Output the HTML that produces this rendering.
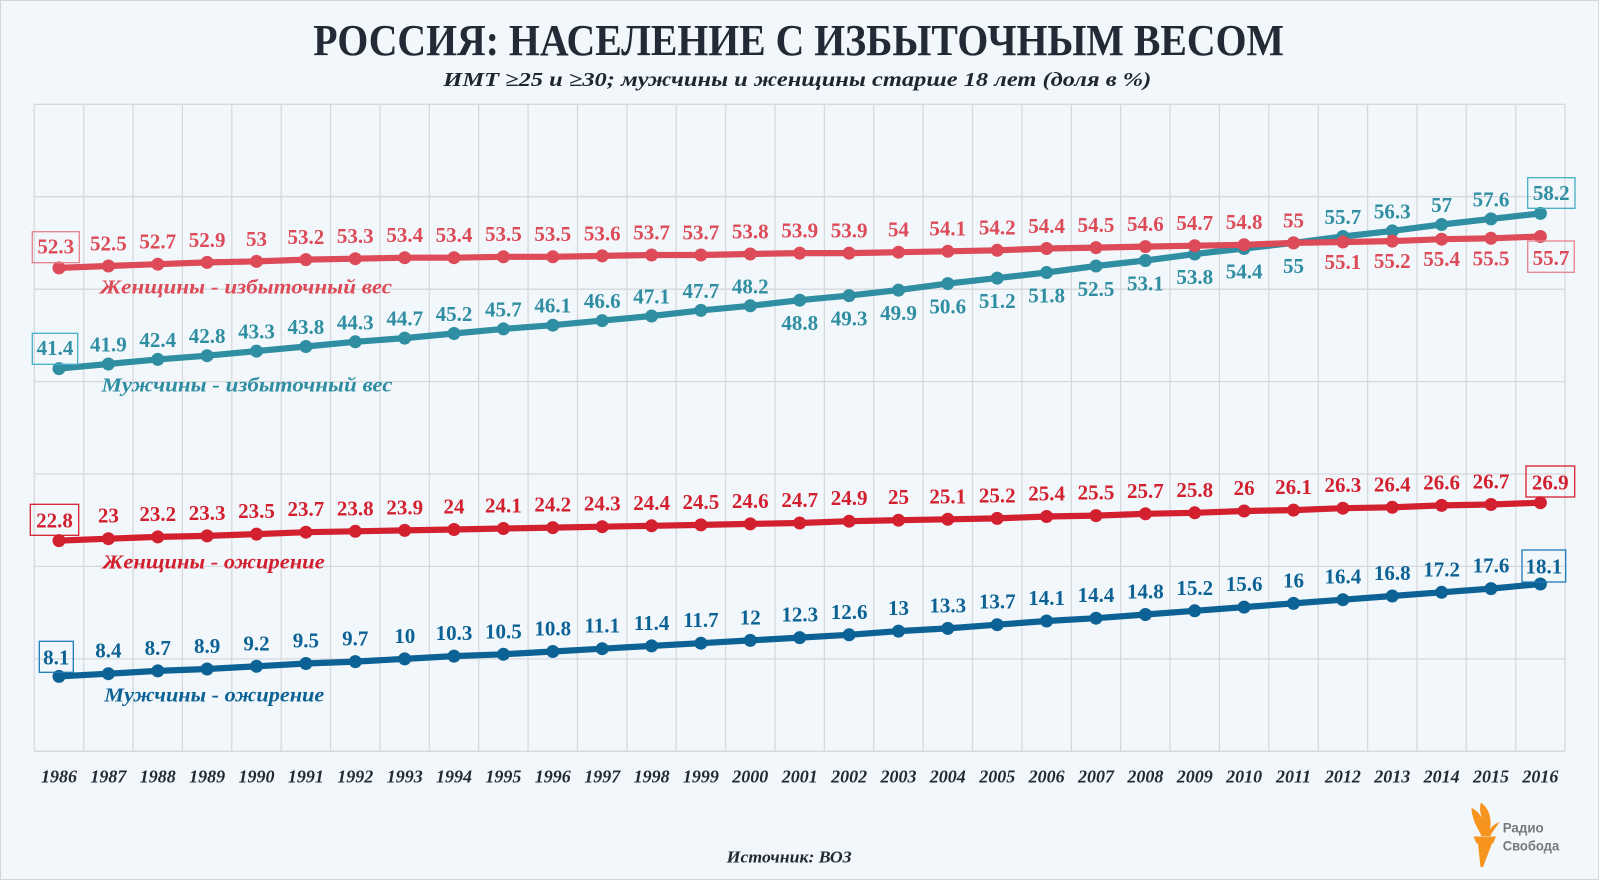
<!DOCTYPE html>
<html><head><meta charset="utf-8">
<style>
html,body{margin:0;padding:0;background:#f2f7fb;}
svg{display:block;}
.v{font-family:"Liberation Serif",serif;font-weight:bold;font-size:21px;text-anchor:middle;}
.wo{fill:#dc4b57;} .mo{fill:#2f8ea1;} .wb{fill:#d3202f;} .mb{fill:#0c6294;}
.yr{font-family:"Liberation Serif",serif;font-weight:bold;font-style:italic;font-size:18px;text-anchor:middle;fill:#232a35;}
.lg{font-family:"Liberation Serif",serif;font-weight:bold;font-style:italic;font-size:20px;}
</style></head>
<body>
<svg width="1599" height="880" viewBox="0 0 1599 880" xmlns="http://www.w3.org/2000/svg">
<rect x="0.5" y="0.5" width="1598" height="879" fill="#f2f7fb" stroke="#d3d6d9" stroke-width="1"/>

<!-- title -->
<text x="313.3" y="55" textLength="970.7" lengthAdjust="spacingAndGlyphs" font-family="Liberation Serif, serif" font-weight="bold" font-size="44" fill="#232a35">РОССИЯ: НАСЕЛЕНИЕ С ИЗБЫТОЧНЫМ ВЕСОМ</text>
<text x="443.3" y="86" textLength="708" lengthAdjust="spacingAndGlyphs" font-family="Liberation Serif, serif" font-weight="bold" font-style="italic" font-size="20" fill="#1f2631">ИМТ ≥25 и ≥30; мужчины и женщины старше 18 лет (доля в %)</text>

<!-- grid -->
<path fill="none" stroke="#d6d9dc" stroke-width="1.3" d="
M34.3,104.3H1565.1 M34.3,196.7H1565.1 M34.3,289.2H1565.1 M34.3,381.6H1565.1 M34.3,474.0H1565.1 M34.3,566.4H1565.1 M34.3,658.9H1565.1 M34.3,751.3H1565.1
M34.3,104.3V751.3 M83.7,104.3V751.3 M133.1,104.3V751.3 M182.4,104.3V751.3 M231.8,104.3V751.3 M281.2,104.3V751.3 M330.6,104.3V751.3 M380.0,104.3V751.3
M429.3,104.3V751.3 M478.7,104.3V751.3 M528.1,104.3V751.3 M577.5,104.3V751.3 M626.9,104.3V751.3 M676.2,104.3V751.3 M725.6,104.3V751.3 M775.0,104.3V751.3
M824.4,104.3V751.3 M873.8,104.3V751.3 M923.1,104.3V751.3 M972.5,104.3V751.3 M1021.9,104.3V751.3 M1071.3,104.3V751.3 M1120.7,104.3V751.3 M1170.0,104.3V751.3
M1219.4,104.3V751.3 M1268.8,104.3V751.3 M1318.2,104.3V751.3 M1367.6,104.3V751.3 M1416.9,104.3V751.3 M1466.3,104.3V751.3 M1515.7,104.3V751.3 M1565.1,104.3V751.3"/>

<!-- series: men overweight -->
<g fill="#2f8ea1" stroke="#2f8ea1">
<polyline fill="none" stroke-width="6.2" stroke-linejoin="round" points="59.0,368.6 108.4,364.0 157.8,359.4 207.1,355.7 256.5,351.1 305.9,346.5 355.3,341.8 404.7,338.1 454.0,333.5 503.4,328.9 552.8,325.2 602.2,320.6 651.6,316.0 700.9,310.4 750.3,305.8 799.7,300.2 849.1,295.6 898.5,290.1 947.8,283.6 997.2,278.1 1046.6,272.5 1096.0,266.0 1145.4,260.5 1194.7,254.0 1244.1,248.5 1293.5,242.9 1342.9,236.5 1392.3,230.9 1441.6,224.5 1491.0,218.9 1540.4,213.4"/>
<g stroke="none">
<circle cx="59.0" cy="368.6" r="6.5"/><circle cx="108.4" cy="364.0" r="6.5"/><circle cx="157.8" cy="359.4" r="6.5"/><circle cx="207.1" cy="355.7" r="6.5"/><circle cx="256.5" cy="351.1" r="6.5"/><circle cx="305.9" cy="346.5" r="6.5"/><circle cx="355.3" cy="341.8" r="6.5"/><circle cx="404.7" cy="338.1" r="6.5"/><circle cx="454.0" cy="333.5" r="6.5"/><circle cx="503.4" cy="328.9" r="6.5"/><circle cx="552.8" cy="325.2" r="6.5"/><circle cx="602.2" cy="320.6" r="6.5"/><circle cx="651.6" cy="316.0" r="6.5"/><circle cx="700.9" cy="310.4" r="6.5"/><circle cx="750.3" cy="305.8" r="6.5"/><circle cx="799.7" cy="300.2" r="6.5"/><circle cx="849.1" cy="295.6" r="6.5"/><circle cx="898.5" cy="290.1" r="6.5"/><circle cx="947.8" cy="283.6" r="6.5"/><circle cx="997.2" cy="278.1" r="6.5"/><circle cx="1046.6" cy="272.5" r="6.5"/><circle cx="1096.0" cy="266.0" r="6.5"/><circle cx="1145.4" cy="260.5" r="6.5"/><circle cx="1194.7" cy="254.0" r="6.5"/><circle cx="1244.1" cy="248.5" r="6.5"/><circle cx="1293.5" cy="242.9" r="6.5"/><circle cx="1342.9" cy="236.5" r="6.5"/><circle cx="1392.3" cy="230.9" r="6.5"/><circle cx="1441.6" cy="224.5" r="6.5"/><circle cx="1491.0" cy="218.9" r="6.5"/><circle cx="1540.4" cy="213.4" r="6.5"/>
</g></g>

<!-- series: women overweight -->
<g fill="#dc4b57" stroke="#dc4b57">
<polyline fill="none" stroke-width="6.2" stroke-linejoin="round" points="59.0,267.9 108.4,266.0 157.8,264.2 207.1,262.4 256.5,261.4 305.9,259.6 355.3,258.7 404.7,257.7 454.0,257.7 503.4,256.8 552.8,256.8 602.2,255.9 651.6,255.0 700.9,255.0 750.3,254.0 799.7,253.1 849.1,253.1 898.5,252.2 947.8,251.3 997.2,250.3 1046.6,248.5 1096.0,247.6 1145.4,246.6 1194.7,245.7 1244.1,244.8 1293.5,242.9 1342.9,242.0 1392.3,241.1 1441.6,239.2 1491.0,238.3 1540.4,236.5"/>
<g stroke="none">
<circle cx="59.0" cy="267.9" r="6.5"/><circle cx="108.4" cy="266.0" r="6.5"/><circle cx="157.8" cy="264.2" r="6.5"/><circle cx="207.1" cy="262.4" r="6.5"/><circle cx="256.5" cy="261.4" r="6.5"/><circle cx="305.9" cy="259.6" r="6.5"/><circle cx="355.3" cy="258.7" r="6.5"/><circle cx="404.7" cy="257.7" r="6.5"/><circle cx="454.0" cy="257.7" r="6.5"/><circle cx="503.4" cy="256.8" r="6.5"/><circle cx="552.8" cy="256.8" r="6.5"/><circle cx="602.2" cy="255.9" r="6.5"/><circle cx="651.6" cy="255.0" r="6.5"/><circle cx="700.9" cy="255.0" r="6.5"/><circle cx="750.3" cy="254.0" r="6.5"/><circle cx="799.7" cy="253.1" r="6.5"/><circle cx="849.1" cy="253.1" r="6.5"/><circle cx="898.5" cy="252.2" r="6.5"/><circle cx="947.8" cy="251.3" r="6.5"/><circle cx="997.2" cy="250.3" r="6.5"/><circle cx="1046.6" cy="248.5" r="6.5"/><circle cx="1096.0" cy="247.6" r="6.5"/><circle cx="1145.4" cy="246.6" r="6.5"/><circle cx="1194.7" cy="245.7" r="6.5"/><circle cx="1244.1" cy="244.8" r="6.5"/><circle cx="1293.5" cy="242.9" r="6.5"/><circle cx="1342.9" cy="242.0" r="6.5"/><circle cx="1392.3" cy="241.1" r="6.5"/><circle cx="1441.6" cy="239.2" r="6.5"/><circle cx="1491.0" cy="238.3" r="6.5"/><circle cx="1540.4" cy="236.5" r="6.5"/>
</g></g>

<!-- series: women obesity -->
<g fill="#d3202f" stroke="#d3202f">
<polyline fill="none" stroke-width="6.2" stroke-linejoin="round" points="59.0,540.6 108.4,538.7 157.8,536.9 207.1,535.9 256.5,534.1 305.9,532.2 355.3,531.3 404.7,530.4 454.0,529.5 503.4,528.5 552.8,527.6 602.2,526.7 651.6,525.8 700.9,524.9 750.3,523.9 799.7,523.0 849.1,521.2 898.5,520.2 947.8,519.3 997.2,518.4 1046.6,516.5 1096.0,515.6 1145.4,513.8 1194.7,512.8 1244.1,511.0 1293.5,510.1 1342.9,508.2 1392.3,507.3 1441.6,505.4 1491.0,504.5 1540.4,502.7"/>
<g stroke="none">
<circle cx="59.0" cy="540.6" r="6.5"/><circle cx="108.4" cy="538.7" r="6.5"/><circle cx="157.8" cy="536.9" r="6.5"/><circle cx="207.1" cy="535.9" r="6.5"/><circle cx="256.5" cy="534.1" r="6.5"/><circle cx="305.9" cy="532.2" r="6.5"/><circle cx="355.3" cy="531.3" r="6.5"/><circle cx="404.7" cy="530.4" r="6.5"/><circle cx="454.0" cy="529.5" r="6.5"/><circle cx="503.4" cy="528.5" r="6.5"/><circle cx="552.8" cy="527.6" r="6.5"/><circle cx="602.2" cy="526.7" r="6.5"/><circle cx="651.6" cy="525.8" r="6.5"/><circle cx="700.9" cy="524.9" r="6.5"/><circle cx="750.3" cy="523.9" r="6.5"/><circle cx="799.7" cy="523.0" r="6.5"/><circle cx="849.1" cy="521.2" r="6.5"/><circle cx="898.5" cy="520.2" r="6.5"/><circle cx="947.8" cy="519.3" r="6.5"/><circle cx="997.2" cy="518.4" r="6.5"/><circle cx="1046.6" cy="516.5" r="6.5"/><circle cx="1096.0" cy="515.6" r="6.5"/><circle cx="1145.4" cy="513.8" r="6.5"/><circle cx="1194.7" cy="512.8" r="6.5"/><circle cx="1244.1" cy="511.0" r="6.5"/><circle cx="1293.5" cy="510.1" r="6.5"/><circle cx="1342.9" cy="508.2" r="6.5"/><circle cx="1392.3" cy="507.3" r="6.5"/><circle cx="1441.6" cy="505.4" r="6.5"/><circle cx="1491.0" cy="504.5" r="6.5"/><circle cx="1540.4" cy="502.7" r="6.5"/>
</g></g>

<!-- series: men obesity -->
<g fill="#0c6294" stroke="#0c6294">
<polyline fill="none" stroke-width="6.2" stroke-linejoin="round" points="59.0,676.4 108.4,673.7 157.8,670.9 207.1,669.0 256.5,666.3 305.9,663.5 355.3,661.6 404.7,658.9 454.0,656.1 503.4,654.3 552.8,651.5 602.2,648.7 651.6,645.9 700.9,643.2 750.3,640.4 799.7,637.6 849.1,634.8 898.5,631.1 947.8,628.4 997.2,624.7 1046.6,621.0 1096.0,618.2 1145.4,614.5 1194.7,610.8 1244.1,607.1 1293.5,603.4 1342.9,599.7 1392.3,596.0 1441.6,592.3 1491.0,588.6 1540.4,584.0"/>
<g stroke="none">
<circle cx="59.0" cy="676.4" r="6.5"/><circle cx="108.4" cy="673.7" r="6.5"/><circle cx="157.8" cy="670.9" r="6.5"/><circle cx="207.1" cy="669.0" r="6.5"/><circle cx="256.5" cy="666.3" r="6.5"/><circle cx="305.9" cy="663.5" r="6.5"/><circle cx="355.3" cy="661.6" r="6.5"/><circle cx="404.7" cy="658.9" r="6.5"/><circle cx="454.0" cy="656.1" r="6.5"/><circle cx="503.4" cy="654.3" r="6.5"/><circle cx="552.8" cy="651.5" r="6.5"/><circle cx="602.2" cy="648.7" r="6.5"/><circle cx="651.6" cy="645.9" r="6.5"/><circle cx="700.9" cy="643.2" r="6.5"/><circle cx="750.3" cy="640.4" r="6.5"/><circle cx="799.7" cy="637.6" r="6.5"/><circle cx="849.1" cy="634.8" r="6.5"/><circle cx="898.5" cy="631.1" r="6.5"/><circle cx="947.8" cy="628.4" r="6.5"/><circle cx="997.2" cy="624.7" r="6.5"/><circle cx="1046.6" cy="621.0" r="6.5"/><circle cx="1096.0" cy="618.2" r="6.5"/><circle cx="1145.4" cy="614.5" r="6.5"/><circle cx="1194.7" cy="610.8" r="6.5"/><circle cx="1244.1" cy="607.1" r="6.5"/><circle cx="1293.5" cy="603.4" r="6.5"/><circle cx="1342.9" cy="599.7" r="6.5"/><circle cx="1392.3" cy="596.0" r="6.5"/><circle cx="1441.6" cy="592.3" r="6.5"/><circle cx="1491.0" cy="588.6" r="6.5"/><circle cx="1540.4" cy="584.0" r="6.5"/>
</g></g>

<!-- boxes -->
<g fill="none" stroke-width="1.3">
<rect x="32.3" y="231.7" width="47" height="31" stroke="#e5838b"/>
<rect x="32.3" y="333.3" width="45.4" height="31" stroke="#45aec4"/>
<rect x="30.3" y="504.3" width="48.4" height="31" stroke="#d3202f"/>
<rect x="39.3" y="641.3" width="34" height="31" stroke="#1b7bb8"/>
<rect x="1527.7" y="177.7" width="47.3" height="30.6" stroke="#45aec4"/>
<rect x="1527.7" y="241" width="46.6" height="31.3" stroke="#e5838b"/>
<rect x="1526" y="466" width="48.7" height="31" stroke="#d3202f"/>
<rect x="1522" y="550" width="43.7" height="32" stroke="#1b7bb8"/>
</g>

<!-- women overweight labels -->
<g class="v wo">
<text x="55.8" y="253.3">52.3</text>
<text x="108.4" y="266.0" dy="-15.6">52.5</text>
<text x="157.8" y="264.2" dy="-15.6">52.7</text>
<text x="207.1" y="262.4" dy="-15.6">52.9</text>
<text x="256.5" y="261.4" dy="-15.6">53</text>
<text x="305.9" y="259.6" dy="-15.6">53.2</text>
<text x="355.3" y="258.7" dy="-15.6">53.3</text>
<text x="404.7" y="257.7" dy="-15.6">53.4</text>
<text x="454.0" y="257.7" dy="-15.6">53.4</text>
<text x="503.4" y="256.8" dy="-15.6">53.5</text>
<text x="552.8" y="256.8" dy="-15.6">53.5</text>
<text x="602.2" y="255.9" dy="-15.6">53.6</text>
<text x="651.6" y="255.0" dy="-15.6">53.7</text>
<text x="700.9" y="255.0" dy="-15.6">53.7</text>
<text x="750.3" y="254.0" dy="-15.6">53.8</text>
<text x="799.7" y="253.1" dy="-15.6">53.9</text>
<text x="849.1" y="253.1" dy="-15.6">53.9</text>
<text x="898.5" y="252.2" dy="-15.6">54</text>
<text x="947.8" y="251.3" dy="-15.6">54.1</text>
<text x="997.2" y="250.3" dy="-15.6">54.2</text>
<text x="1046.6" y="248.5" dy="-15.6">54.4</text>
<text x="1096.0" y="247.6" dy="-15.6">54.5</text>
<text x="1145.4" y="246.6" dy="-15.6">54.6</text>
<text x="1194.7" y="245.7" dy="-15.6">54.7</text>
<text x="1244.1" y="244.8" dy="-15.6">54.8</text>
<text x="1293.5" y="242.9" dy="-15.6">55</text>
<text x="1342.9" y="242.0" dy="27">55.1</text>
<text x="1392.3" y="241.1" dy="27">55.2</text>
<text x="1441.6" y="239.2" dy="27">55.4</text>
<text x="1491.0" y="238.3" dy="27">55.5</text>
<text x="1551" y="265">55.7</text>
</g>

<!-- men overweight labels -->
<g class="v mo">
<text x="55" y="355">41.4</text>
<text x="108.4" y="364.0" dy="-12.5">41.9</text>
<text x="157.8" y="359.4" dy="-12.5">42.4</text>
<text x="207.1" y="355.7" dy="-12.5">42.8</text>
<text x="256.5" y="351.1" dy="-12.5">43.3</text>
<text x="305.9" y="346.5" dy="-12.5">43.8</text>
<text x="355.3" y="341.8" dy="-12.5">44.3</text>
<text x="404.7" y="338.1" dy="-12.5">44.7</text>
<text x="454.0" y="333.5" dy="-12.5">45.2</text>
<text x="503.4" y="328.9" dy="-12.5">45.7</text>
<text x="552.8" y="325.2" dy="-12.5">46.1</text>
<text x="602.2" y="320.6" dy="-12.5">46.6</text>
<text x="651.6" y="316.0" dy="-12.5">47.1</text>
<text x="700.9" y="310.4" dy="-12.5">47.7</text>
<text x="750.3" y="305.8" dy="-12.5">48.2</text>
<text x="799.7" y="300.2" dy="30">48.8</text>
<text x="849.1" y="295.6" dy="30">49.3</text>
<text x="898.5" y="290.1" dy="30">49.9</text>
<text x="947.8" y="283.6" dy="30">50.6</text>
<text x="997.2" y="278.1" dy="30">51.2</text>
<text x="1046.6" y="272.5" dy="30">51.8</text>
<text x="1096.0" y="266.0" dy="30">52.5</text>
<text x="1145.4" y="260.5" dy="30">53.1</text>
<text x="1194.7" y="254.0" dy="30">53.8</text>
<text x="1244.1" y="248.5" dy="30">54.4</text>
<text x="1293.5" y="242.9" dy="30">55</text>
<text x="1342.9" y="236.5" dy="-12.5">55.7</text>
<text x="1392.3" y="230.9" dy="-12.5">56.3</text>
<text x="1441.6" y="224.5" dy="-12.5">57</text>
<text x="1491.0" y="218.9" dy="-12.5">57.6</text>
<text x="1551.3" y="200">58.2</text>
</g>

<!-- women obesity labels -->
<g class="v wb">
<text x="54.5" y="527.7">22.8</text>
<text x="108.4" y="538.7" dy="-16">23</text>
<text x="157.8" y="536.9" dy="-16">23.2</text>
<text x="207.1" y="535.9" dy="-16">23.3</text>
<text x="256.5" y="534.1" dy="-16">23.5</text>
<text x="305.9" y="532.2" dy="-16">23.7</text>
<text x="355.3" y="531.3" dy="-16">23.8</text>
<text x="404.7" y="530.4" dy="-16">23.9</text>
<text x="454.0" y="529.5" dy="-16">24</text>
<text x="503.4" y="528.5" dy="-16">24.1</text>
<text x="552.8" y="527.6" dy="-16">24.2</text>
<text x="602.2" y="526.7" dy="-16">24.3</text>
<text x="651.6" y="525.8" dy="-16">24.4</text>
<text x="700.9" y="524.9" dy="-16">24.5</text>
<text x="750.3" y="523.9" dy="-16">24.6</text>
<text x="799.7" y="523.0" dy="-16">24.7</text>
<text x="849.1" y="521.2" dy="-16">24.9</text>
<text x="898.5" y="520.2" dy="-16">25</text>
<text x="947.8" y="519.3" dy="-16">25.1</text>
<text x="997.2" y="518.4" dy="-16">25.2</text>
<text x="1046.6" y="516.5" dy="-16">25.4</text>
<text x="1096.0" y="515.6" dy="-16">25.5</text>
<text x="1145.4" y="513.8" dy="-16">25.7</text>
<text x="1194.7" y="512.8" dy="-16">25.8</text>
<text x="1244.1" y="511.0" dy="-16">26</text>
<text x="1293.5" y="510.1" dy="-16">26.1</text>
<text x="1342.9" y="508.2" dy="-16">26.3</text>
<text x="1392.3" y="507.3" dy="-16">26.4</text>
<text x="1441.6" y="505.4" dy="-16">26.6</text>
<text x="1491.0" y="504.5" dy="-16">26.7</text>
<text x="1550.3" y="489.3">26.9</text>
</g>

<!-- men obesity labels -->
<g class="v mb">
<text x="56.3" y="664.3">8.1</text>
<text x="108.4" y="673.7" dy="-16">8.4</text>
<text x="157.8" y="670.9" dy="-16">8.7</text>
<text x="207.1" y="669.0" dy="-16">8.9</text>
<text x="256.5" y="666.3" dy="-16">9.2</text>
<text x="305.9" y="663.5" dy="-16">9.5</text>
<text x="355.3" y="661.6" dy="-16">9.7</text>
<text x="404.7" y="658.9" dy="-16">10</text>
<text x="454.0" y="656.1" dy="-16">10.3</text>
<text x="503.4" y="654.3" dy="-16">10.5</text>
<text x="552.8" y="651.5" dy="-16">10.8</text>
<text x="602.2" y="648.7" dy="-16">11.1</text>
<text x="651.6" y="645.9" dy="-16">11.4</text>
<text x="700.9" y="643.2" dy="-16">11.7</text>
<text x="750.3" y="640.4" dy="-16">12</text>
<text x="799.7" y="637.6" dy="-16">12.3</text>
<text x="849.1" y="634.8" dy="-16">12.6</text>
<text x="898.5" y="631.1" dy="-16">13</text>
<text x="947.8" y="628.4" dy="-16">13.3</text>
<text x="997.2" y="624.7" dy="-16">13.7</text>
<text x="1046.6" y="621.0" dy="-16">14.1</text>
<text x="1096.0" y="618.2" dy="-16">14.4</text>
<text x="1145.4" y="614.5" dy="-16">14.8</text>
<text x="1194.7" y="610.8" dy="-16">15.2</text>
<text x="1244.1" y="607.1" dy="-16">15.6</text>
<text x="1293.5" y="603.4" dy="-16">16</text>
<text x="1342.9" y="599.7" dy="-16">16.4</text>
<text x="1392.3" y="596.0" dy="-16">16.8</text>
<text x="1441.6" y="592.3" dy="-16">17.2</text>
<text x="1491.0" y="588.6" dy="-16">17.6</text>
<text x="1543.9" y="573.3">18.1</text>
</g>

<!-- series names -->
<text class="lg" x="100" y="293.3" textLength="292" lengthAdjust="spacingAndGlyphs" fill="#dc4b57">Женщины - избыточный вес</text>
<text class="lg" x="101.5" y="391.7" textLength="291" lengthAdjust="spacingAndGlyphs" fill="#2f8ea1">Мужчины - избыточный вес</text>
<text class="lg" x="102.7" y="568.3" textLength="222" lengthAdjust="spacingAndGlyphs" fill="#d3202f">Женщины - ожирение</text>
<text class="lg" x="104.3" y="701.7" textLength="220" lengthAdjust="spacingAndGlyphs" fill="#0c6294">Мужчины - ожирение</text>

<!-- years -->
<g class="yr">
<text x="59.0" y="782.3">1986</text><text x="108.4" y="782.3">1987</text><text x="157.8" y="782.3">1988</text><text x="207.1" y="782.3">1989</text><text x="256.5" y="782.3">1990</text><text x="305.9" y="782.3">1991</text><text x="355.3" y="782.3">1992</text><text x="404.7" y="782.3">1993</text><text x="454.0" y="782.3">1994</text><text x="503.4" y="782.3">1995</text><text x="552.8" y="782.3">1996</text><text x="602.2" y="782.3">1997</text><text x="651.6" y="782.3">1998</text><text x="700.9" y="782.3">1999</text><text x="750.3" y="782.3">2000</text><text x="799.7" y="782.3">2001</text><text x="849.1" y="782.3">2002</text><text x="898.5" y="782.3">2003</text><text x="947.8" y="782.3">2004</text><text x="997.2" y="782.3">2005</text><text x="1046.6" y="782.3">2006</text><text x="1096.0" y="782.3">2007</text><text x="1145.4" y="782.3">2008</text><text x="1194.7" y="782.3">2009</text><text x="1244.1" y="782.3">2010</text><text x="1293.5" y="782.3">2011</text><text x="1342.9" y="782.3">2012</text><text x="1392.3" y="782.3">2013</text><text x="1441.6" y="782.3">2014</text><text x="1491.0" y="782.3">2015</text><text x="1540.4" y="782.3">2016</text>
</g>

<!-- source -->
<text x="726.7" y="862.3" textLength="125" lengthAdjust="spacingAndGlyphs" font-family="Liberation Serif, serif" font-weight="bold" font-style="italic" font-size="17" fill="#232a35">Источник: ВОЗ</text>

<!-- logo -->
<g fill="#f7941d">
<path d="M1471.5,808 C1479,811 1486,821 1486,836 L1481.5,836 C1478,828 1472,821 1471.5,808 Z"/>
<path d="M1481,802.5 C1491,810 1493,823 1488,836 L1484,836 C1487,824 1477,814 1481,802.5 Z"/>
<path d="M1499.5,822 C1494,824 1488.5,829 1486.5,836 L1490.5,836 C1492.5,831 1496.5,827 1499.5,822 Z"/>
<polygon points="1473.5,836.5 1496,836.5 1493,843.5 1476.5,843.5"/>
<polygon points="1478,843.5 1492,843.5 1483,867 1480.5,867"/>
</g>
<text x="1502.7" y="832.7" textLength="41" lengthAdjust="spacingAndGlyphs" font-family="Liberation Sans, sans-serif" font-weight="bold" font-size="13.5" fill="#76797d">Радио</text>
<text x="1502.7" y="850.5" textLength="56.5" lengthAdjust="spacingAndGlyphs" font-family="Liberation Sans, sans-serif" font-weight="bold" font-size="13.5" fill="#76797d">Свобода</text>
</svg>
</body></html>
